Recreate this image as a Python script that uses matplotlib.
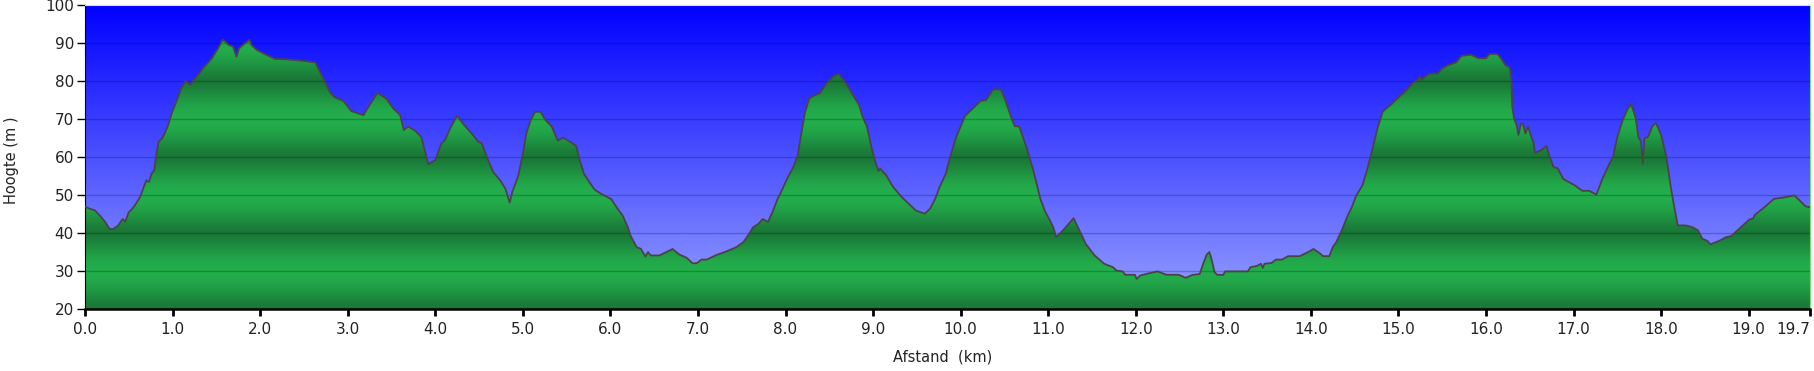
import numpy as np
import matplotlib
matplotlib.use("Agg")
import matplotlib.pyplot as plt
from matplotlib.colors import to_rgb

# ===== 1. data (read from the profile) =====
dist_km = [
    0.00, 0.05, 0.11, 0.17, 0.23, 0.28, 0.32, 0.38, 0.43, 0.46, 0.50, 0.53, 0.57, 0.63, 0.68,
    0.70, 0.73, 0.76, 0.79, 0.81, 0.84, 0.88, 0.91, 0.95, 0.99, 1.05, 1.10, 1.15, 1.20, 1.26,
    1.35, 1.45, 1.52, 1.57, 1.60, 1.64, 1.69, 1.71, 1.73, 1.76, 1.83, 1.88, 1.90, 1.96, 2.07,
    2.17, 2.30, 2.45, 2.63, 2.72, 2.80, 2.85, 2.95, 3.04, 3.18, 3.25, 3.34, 3.44, 3.52, 3.60,
    3.64, 3.69, 3.77, 3.84, 3.88, 3.92, 4.00, 4.07, 4.11, 4.18, 4.25, 4.32, 4.43, 4.49, 4.53,
    4.59, 4.66, 4.74, 4.80, 4.85, 4.88, 4.95, 5.00, 5.04, 5.09, 5.14, 5.20, 5.26, 5.33, 5.40,
    5.46, 5.54, 5.61, 5.65, 5.70, 5.76, 5.82, 5.88, 5.96, 6.01, 6.07, 6.14, 6.20, 6.23, 6.30,
    6.35, 6.40, 6.43, 6.46, 6.56, 6.64, 6.71, 6.79, 6.87, 6.94, 6.99, 7.04, 7.10, 7.21, 7.33,
    7.44, 7.52, 7.57, 7.63, 7.69, 7.74, 7.80, 7.86, 7.91, 7.95, 8.01, 8.09, 8.14, 8.18, 8.22,
    8.27, 8.32, 8.39, 8.47, 8.55, 8.61, 8.66, 8.71, 8.77, 8.84, 8.88, 8.93, 8.98, 9.02, 9.06,
    9.08, 9.15, 9.23, 9.32, 9.42, 9.49, 9.59, 9.65, 9.71, 9.76, 9.83, 9.88, 9.95, 10.05, 10.14,
    10.23, 10.29, 10.37, 10.46, 10.51, 10.58, 10.62, 10.67, 10.75, 10.83, 10.91, 10.96, 11.02, 11.06, 11.09,
    11.17, 11.29, 11.37, 11.43, 11.53, 11.64, 11.74, 11.78, 11.85, 11.88, 11.99, 12.01, 12.05, 12.15, 12.25,
    12.35, 12.49, 12.57, 12.65, 12.73, 12.77, 12.81, 12.84, 12.86, 12.90, 12.93, 13.00, 13.02, 13.28, 13.31,
    13.38, 13.43, 13.45, 13.47, 13.55, 13.60, 13.67, 13.74, 13.87, 13.97, 14.03, 14.10, 14.14, 14.21, 14.25,
    14.29, 14.36, 14.42, 14.46, 14.52, 14.59, 14.64, 14.70, 14.76, 14.82, 14.86, 14.92, 15.01, 15.09, 15.16,
    15.22, 15.24, 15.26, 15.35, 15.45, 15.49, 15.56, 15.66, 15.72, 15.83, 15.91, 16.00, 16.04, 16.13, 16.17,
    16.22, 16.27, 16.29, 16.30, 16.32, 16.35, 16.37, 16.40, 16.42, 16.45, 16.48, 16.51, 16.54, 16.56, 16.63,
    16.69, 16.72, 16.77, 16.82, 16.88, 16.93, 17.01, 17.10, 17.18, 17.26, 17.33, 17.41, 17.45, 17.50, 17.56,
    17.62, 17.66, 17.71, 17.74, 17.77, 17.79, 17.81, 17.85, 17.90, 17.94, 18.00, 18.06, 18.11, 18.15, 18.19,
    18.28, 18.36, 18.42, 18.47, 18.53, 18.56, 18.67, 18.74, 18.80, 18.89, 19.01, 19.05, 19.07, 19.16, 19.24,
    19.29, 19.39, 19.52, 19.58, 19.65, 19.70,
]
elev_m = [
    47.0, 46.4, 46.0, 44.6, 42.9, 41.1, 41.0, 42.0, 43.7, 43.0, 45.5, 46.1, 47.3, 49.5, 52.6,
    53.9, 53.4, 55.6, 56.5, 60.0, 64.0, 64.9, 66.2, 68.4, 71.5, 75.0, 78.1, 80.0, 79.0, 80.7,
    83.4, 86.0, 88.6, 90.8, 90.4, 89.5, 89.1, 87.8, 86.4, 88.6, 90.0, 90.8, 89.5, 88.2, 86.9,
    85.8, 85.7, 85.4, 84.9, 80.7, 77.0, 75.7, 74.8, 72.1, 71.0, 73.7, 76.9, 75.4, 72.8, 71.0,
    67.1, 68.0, 66.9, 65.3, 61.8, 58.1, 59.2, 63.6, 64.4, 68.0, 70.9, 68.7, 65.8, 64.0, 63.7,
    60.0, 56.1, 53.9, 51.7, 48.0, 50.8, 55.2, 60.9, 66.2, 69.7, 71.9, 71.9, 69.7, 68.0, 64.3,
    65.1, 64.0, 62.9, 59.2, 55.5, 53.4, 51.4, 50.5, 49.5, 48.9, 46.8, 44.6, 41.5, 39.3, 36.3,
    35.8, 33.8, 35.0, 34.1, 34.1, 35.0, 35.8, 34.3, 33.5, 32.0, 32.1, 33.0, 33.0, 34.2, 35.2,
    36.3, 37.6, 39.3, 41.5, 42.4, 43.7, 42.9, 46.0, 49.0, 50.8, 53.9, 57.4, 60.5, 66.2, 71.5,
    75.4, 76.1, 76.8, 79.4, 81.3, 81.9, 80.3, 78.7, 76.3, 73.7, 70.6, 68.0, 62.7, 59.2, 56.3,
    57.0, 55.2, 52.1, 49.6, 47.4, 45.9, 45.1, 46.4, 49.0, 52.1, 55.6, 60.0, 65.3, 70.8, 72.8,
    74.8, 75.0, 77.8, 77.8, 75.0, 70.2, 68.1, 68.0, 62.7, 56.5, 49.0, 45.9, 43.3, 41.4, 38.9,
    40.7, 43.9, 40.0, 37.1, 34.1, 31.9, 31.0, 30.1, 29.9, 29.0, 29.0, 27.9, 28.8, 29.4, 29.9,
    29.0, 29.0, 28.2, 29.0, 29.2, 31.9, 34.3, 35.0, 33.6, 29.7, 29.0, 29.0, 29.9, 29.9, 31.0,
    31.3, 31.9, 30.8, 31.9, 32.1, 33.0, 33.0, 33.9, 33.9, 35.0, 35.8, 34.7, 33.9, 33.9, 36.3,
    37.6, 41.1, 44.6, 46.4, 49.9, 52.6, 56.5, 61.8, 67.5, 71.9, 72.8, 73.9, 75.9, 77.6, 79.4,
    80.3, 81.2, 80.3, 81.9, 82.0, 83.1, 84.1, 84.9, 86.6, 86.9, 86.0, 86.0, 87.1, 87.1, 86.0,
    84.2, 83.5, 80.3, 73.2, 70.2, 68.4, 65.8, 68.8, 68.8, 66.2, 68.0, 65.8, 64.0, 61.1, 61.8,
    62.9, 60.5, 57.4, 57.0, 54.3, 53.6, 52.6, 51.1, 51.1, 50.1, 54.3, 58.3, 60.0, 65.3, 69.7,
    72.8, 73.9, 70.2, 65.3, 64.0, 58.3, 64.9, 65.3, 68.1, 69.0, 65.8, 60.0, 52.1, 46.8, 42.0,
    42.0, 41.5, 40.7, 38.5, 37.9, 37.0, 38.0, 38.9, 39.2, 41.1, 43.6, 43.8, 44.8, 46.4, 48.0,
    49.0, 49.3, 49.9, 48.6, 47.0, 46.8,
]

x_ticks = list(range(0, 20)) + [19.7]
x_tick_labels = [f"{t:.1f}" for t in x_ticks]
y_ticks = list(range(20, 101, 10))

X_MAX = 19.7
Y_MIN, Y_MAX = 20, 100


# ===== 2. gradients =====
def sky_gradient():
    # light periwinkle at the bottom -> pure blue at the top
    bottom = np.array(to_rgb("#98a2ff"))
    top = np.array(to_rgb("#0000ff"))
    t = np.linspace(0, 1, 400)[:, None]
    return (bottom + (top - bottom) * t)[:, None, :]


def green_bands():
    # bright at 30/50/70/90, darker at 20/40/60/80
    bright = np.array(to_rgb("#23ae4c"))
    dark = np.array(to_rgb("#1a7737"))
    e = np.linspace(Y_MIN, Y_MAX, 800)
    t = (0.5 + 0.5 * np.cos(np.pi * (e - 30) / 10)) ** 0.7
    rgb = dark + (bright - dark) * t[:, None]
    return rgb[:, None, :]


# ===== 3. plot =====
def plot_profile():
    fig = plt.figure(figsize=(18.14, 3.71), dpi=100)
    ax = fig.add_axes([85 / 1814, 1 - 309 / 371, 1725 / 1814, 304 / 371])

    extent = [0, X_MAX, Y_MIN, Y_MAX]
    ax.imshow(sky_gradient(), extent=extent, origin="lower", aspect="auto",
              interpolation="bilinear", zorder=0)

    fill = ax.fill_between(dist_km, elev_m, Y_MIN, facecolor="none",
                           edgecolor="none", zorder=1)
    green = ax.imshow(green_bands(), extent=extent, origin="lower", aspect="auto",
                      interpolation="bilinear", zorder=1)
    green.set_clip_path(fill.get_paths()[0], ax.transData)

    for y in y_ticks[1:-1]:
        ax.axhline(y, color="black", alpha=0.22, lw=1, zorder=3)

    ax.plot(dist_km, elev_m, color="#4a4448", lw=1.3, zorder=4)

    ax.set_xlim(0, X_MAX)
    ax.set_ylim(Y_MIN, Y_MAX)
    ax.set_xticks(x_ticks)
    ax.set_xticklabels(x_tick_labels)
    ax.set_yticks(y_ticks)
    # last label sits left of its tick so it stays inside the picture
    ax.get_xticklabels()[-1].set_horizontalalignment("right")

    ax.tick_params(axis="x", direction="out", length=5, width=2, pad=4,
                   labelsize=11, labelcolor="#222222")
    ax.tick_params(axis="y", direction="out", length=6, width=1, pad=2,
                   labelsize=11, labelcolor="#222222")

    ax.spines["left"].set_color("black")
    ax.spines["bottom"].set_color("black")
    ax.spines["bottom"].set_linewidth(1.8)
    ax.spines["top"].set_color("#dcdcdc")
    ax.spines["right"].set_color("#7ad87a")

    fig.text(12 / 1814, 1 - 160 / 371, "Hoogte (m )", rotation=90,
             ha="center", va="center", fontsize=10.5, color="#222222")
    fig.text(943 / 1814, 1 - 357 / 371, "Afstand  (km)",
             ha="center", va="center", fontsize=10.5, color="#222222")

    fig.savefig("out.png", dpi=100)
    plt.close(fig)


if __name__ == "__main__":
    plot_profile()
